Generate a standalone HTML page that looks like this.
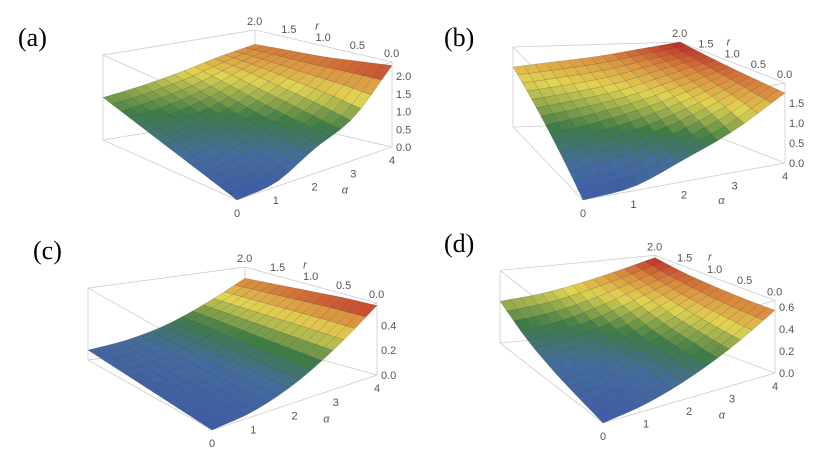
<!DOCTYPE html>
<html><head><meta charset="utf-8"><style>
body{margin:0;background:#fff}
svg{display:block}
</style></head><body>
<svg id="root" width="830" height="467" viewBox="0 0 830 467" xmlns="http://www.w3.org/2000/svg" style="font-family:'Liberation Sans',sans-serif">
<text x="18" y="46" style="font-family:'Liberation Serif',serif;font-size:26px">(a)</text>
<text x="444" y="46" style="font-family:'Liberation Serif',serif;font-size:26px">(b)</text>
<text x="33" y="259" style="font-family:'Liberation Serif',serif;font-size:26px">(c)</text>
<text x="444" y="252" style="font-family:'Liberation Serif',serif;font-size:26px">(d)</text>
</svg>
<script>
// data: z values on grid alpha = 0..4 (columns), r = 0..2 step 0.5 (rows)
const alphaTicks = [0,1,2,3,4];
const rTicks = ["2.0","1.5","1.0","0.5","0.0"];
const zA = [[0,0.12,0.7,1.2,2.3],[0.3,0.45,0.85,1.4,2.2],[0.6,0.75,1.05,1.55,2.1],[0.9,1.05,1.3,1.7,2.05],[1.2,1.35,1.55,1.8,2.0]];
const zB = [[0,0.1,0.55,1.05,1.75],[0.45,0.6,0.9,1.3,1.8],[0.85,1.0,1.2,1.5,1.85],[1.2,1.3,1.45,1.7,1.92],[1.5,1.6,1.7,1.85,2.0]];
const zC = [[0,0.04,0.15,0.33,0.56],[0.02,0.06,0.16,0.33,0.55],[0.04,0.08,0.17,0.33,0.53],[0.06,0.1,0.19,0.33,0.51],[0.08,0.12,0.2,0.33,0.49]];
const zD = [[0,0.06,0.18,0.35,0.57],[0.06,0.1,0.22,0.38,0.57],[0.13,0.17,0.27,0.42,0.58],[0.23,0.27,0.36,0.48,0.6],[0.38,0.41,0.47,0.55,0.64]];
const zTicksA = ["0.0","0.5","1.0","1.5","2.0"];
const zTicksB = ["0.0","0.5","1.0","1.5"];
const zTicksC = ["0.0","0.2","0.4"];
const zTicksD = ["0.0","0.2","0.4","0.6"];

const NS="http://www.w3.org/2000/svg";
const root=document.getElementById('root');
function mk(tag,attrs,parent){const e=document.createElementNS(NS,tag);for(const k in attrs)e.setAttribute(k,attrs[k]);(parent||root).appendChild(e);return e;}

const stops=[[0,[62,92,168]],[0.22,[68,108,158]],[0.44,[62,124,70]],[0.68,[226,212,82]],[0.85,[218,140,62]],[1,[188,42,40]]];
function colorAt(t){t=Math.max(0,Math.min(1,t));for(let i=1;i<stops.length;i++){if(t<=stops[i][0]){const a=stops[i-1],b=stops[i];const u=(t-a[0])/(b[0]-a[0]);return a[1].map((v,j)=>Math.round(v+(b[1][j]-v)*u));}}return stops[stops.length-1][1];}

function cr(p0,p1,p2,p3,t){return 0.5*((2*p1)+(-p0+p2)*t+(2*p0-5*p1+4*p2-p3)*t*t+(-p0+3*p1-3*p2+p3)*t*t*t);}
function smooth1(arr,x){const n=arr.length;const i=Math.min(n-2,Math.floor(x));const t=x-i;
  const g=k=>k<0?2*arr[0]-arr[1]:(k>=n?2*arr[n-1]-arr[n-2]:arr[k]);
  return cr(g(i-1),g(i),g(i+1),g(i+2),t);}

function panel(name,cfg,Z,zTicks){
  const g=mk('g',{});
  
  
  const {F,R,B,L,k,zmax}=cfg;
  function base(a,r){const u=a/4,v=r/2;
    const x=(1-u)*(1-v)*F[0]+u*(1-v)*R[0]+u*v*B[0]+(1-u)*v*L[0];
    const y=(1-u)*(1-v)*F[1]+u*(1-v)*R[1]+u*v*B[1]+(1-u)*v*L[1];return [x,y];}
  function zAt(a,r){const col=Z.map(row=>smooth1(row,a));return smooth1(col,r/0.5);}
  function P(a,r,z){const b=base(a,r);return [b[0],b[1]-z*k];}
  const box=mk('g',{stroke:'#cdcdcd','stroke-width':0.8,fill:'none'},g);
  
  
  const cs=[[0,0],[4,0],[4,2],[0,2]];
  for(let i=0;i<4;i++){const c=cs[i],d=cs[(i+1)%4];
    for(const z of [0,zmax]){const p=P(c[0],c[1],z),q=P(d[0],d[1],z);mk('line',{x1:p[0],y1:p[1],x2:q[0],y2:q[1]},box);}
    const p=P(c[0],c[1],0),q=P(c[0],c[1],zmax);mk('line',{x1:p[0],y1:p[1],x2:q[0],y2:q[1]},box);}
  let zmin=Infinity,zmx=-Infinity;Z.forEach(r=>r.forEach(v=>{zmin=Math.min(zmin,v);zmx=Math.max(zmx,v);}));
  const N=15,quads=[];
  for(let i=0;i<N;i++)for(let j=0;j<N;j++){
    const a0=4*i/N,a1=4*(i+1)/N,r0=2*j/N,r1=2*(j+1)/N;
    const pts=[[a0,r0],[a1,r0],[a1,r1],[a0,r1]].map(p=>P(p[0],p[1],zAt(p[0],p[1])));
    const zm=(zAt(a0,r0)+zAt(a1,r0)+zAt(a1,r1)+zAt(a0,r1))/4;
    const depth=base((a0+a1)/2,(r0+r1)/2)[1];
    quads.push({pts,zm,depth});}
  quads.sort((p,q)=>p.depth-q.depth);
  const sg=mk('g',{},g);
  
  
  for(const q of quads){const c=colorAt((q.zm-zmin)/(zmx-zmin));
    const e=mk('polygon',{points:q.pts.map(p=>p.join(',')).join(' '),fill:`rgb(${c})`,stroke:'rgba(40,40,40,0.3)','stroke-width':0.5,'stroke-linejoin':'round'},sg);
    
    }
  const tg=mk('g',{fill:'#555','font-size':11},g);
  alphaTicks.forEach(a=>{const p=P(a,0,0);const t=mk('text',{x:p[0]-3,y:p[1]+17},tg);t.textContent=a;
    });
  rTicks.forEach((s,i)=>{const r=2-i*0.5;const p=P(4,r,zmax);const t=mk('text',{x:p[0]-8,y:p[1]-5},tg);t.textContent=s;
    });
  zTicks.forEach(s=>{const p=P(4,0,parseFloat(s));const t=mk('text',{x:p[0]+4,y:p[1]+4},tg);t.textContent=s;
    });
  const pa=P(2.6,0,0);const ta=mk('text',{x:pa[0]+4,y:pa[1]+28,'font-style':'italic'},tg);ta.textContent='α';
  
  const pr=P(4,1.15,zmax);const tr=mk('text',{x:pr[0]+2,y:pr[1]-14,'font-style':'italic'},tg);tr.textContent='r';
  
}
panel('panel-a',{F:[237,200],R:[392,147],B:[255,115],L:[103,140],k:35.4,zmax:2.4},zA,zTicksA);
panel('panel-b',{F:[583,200],R:[785,163],B:[680,122],L:[513,127],k:40,zmax:2.0},zB,zTicksB);
panel('panel-c',{F:[212,430],R:[377,375],B:[245,339],L:[88,360],k:124,zmax:0.58},zC,zTicksC);
panel('panel-d',{F:[603,423],R:[775,373],B:[655,328],L:[500,343],k:110,zmax:0.66},zD,zTicksD);
</script>
</body></html>
